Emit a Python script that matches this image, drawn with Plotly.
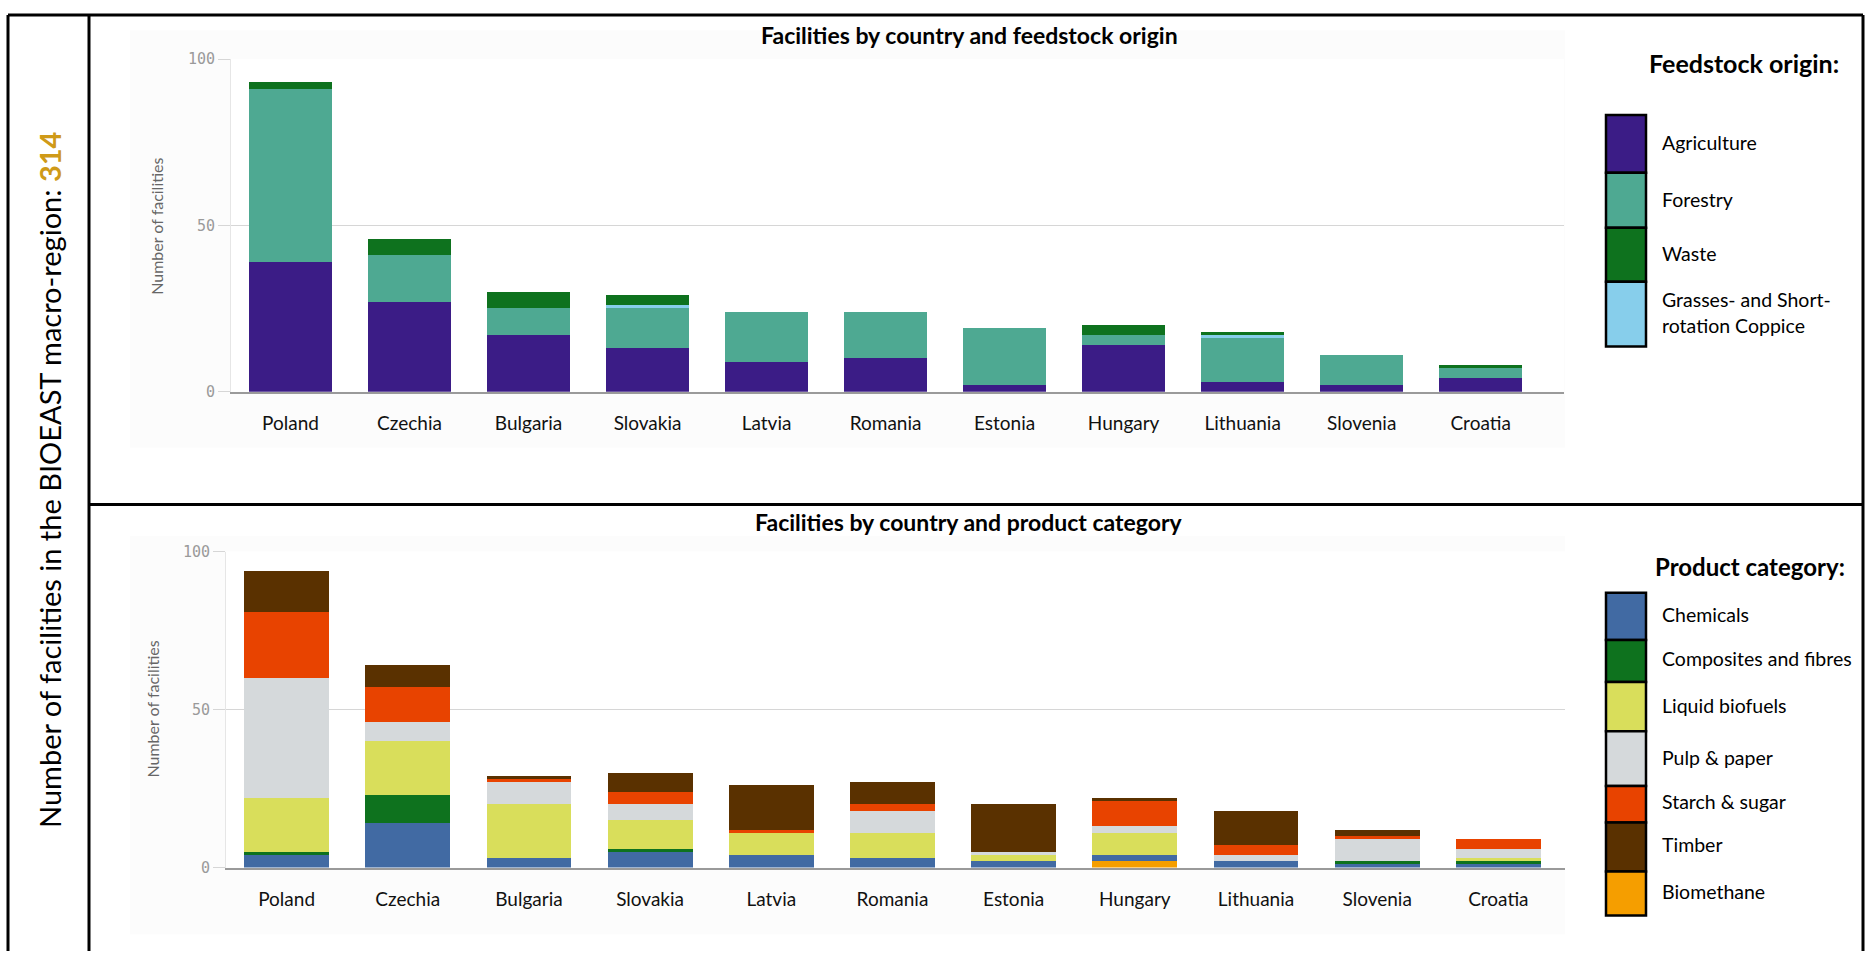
import plotly.graph_objects as go

W, H = 1869, 956

countries = ["Poland", "Czechia", "Bulgaria", "Slovakia", "Latvia", "Romania",
             "Estonia", "Hungary", "Lithuania", "Slovenia", "Croatia"]

# Facilities by feedstock origin (stacked bottom -> top)
agriculture = [39, 27, 17, 13, 9, 10, 2, 14, 3, 2, 4]
forestry = [52, 14, 8, 12, 15, 14, 17, 3, 13, 9, 3]
grasses_src = [0, 0, 0, 1, 0, 0, 0, 0, 1, 0, 0]
waste = [2, 5, 5, 3, 0, 0, 0, 3, 1, 0, 1]

# Facilities by product category (stacked bottom -> top)
biomethane = [0, 0, 0, 0, 0, 0, 0, 2, 0, 0, 0]
chemicals = [4, 14, 3, 5, 4, 3, 2, 2, 2, 1, 1]
composites = [1, 9, 0, 1, 0, 0, 0, 0, 0, 1, 1]
liquid_biofuels = [17, 17, 17, 9, 7, 8, 2, 7, 0, 0, 1]
pulp_paper = [38, 6, 7, 5, 0, 7, 1, 2, 2, 7, 3]
starch_sugar = [21, 11, 1, 4, 1, 2, 0, 8, 3, 1, 3]
timber = [13, 7, 1, 6, 14, 7, 15, 1, 11, 2, 0]

total_facilities = 314

C_AGR, C_FOR, C_WASTE, C_GRASS = "#3b1c86", "#4ea992", "#0e721e", "#87ceeb"
C_CHEM, C_COMP, C_LIQ, C_PULP = "#416aa3", "#0e721e", "#d9de5b", "#d5d9db"
C_STARCH, C_TIMBER, C_BIOM = "#e84300", "#5a3100", "#f59e00"

origin_series = [("Agriculture", agriculture, C_AGR),
                 ("Forestry", forestry, C_FOR),
                 ("Grasses- and Short-rotation Coppice", grasses_src, C_GRASS),
                 ("Waste", waste, C_WASTE)]
product_series = [("Biomethane", biomethane, C_BIOM),
                  ("Chemicals", chemicals, C_CHEM),
                  ("Composites and fibres", composites, C_COMP),
                  ("Liquid biofuels", liquid_biofuels, C_LIQ),
                  ("Pulp & paper", pulp_paper, C_PULP),
                  ("Starch & sugar", starch_sugar, C_STARCH),
                  ("Timber", timber, C_TIMBER)]


def px(x):
    return x / W


def py(y):
    return 1 - y / H


fig = go.Figure()
for name, vals, col in origin_series:
    fig.add_trace(go.Bar(x=countries, y=vals, name=name, marker_color=col,
                         marker_line_width=0, xaxis="x", yaxis="y", showlegend=False))
for name, vals, col in product_series:
    fig.add_trace(go.Bar(x=countries, y=vals, name=name, marker_color=col,
                         marker_line_width=0, xaxis="x2", yaxis="y2", showlegend=False))

LABEL_FONT = "Lato, 'Open Sans', sans-serif"
xcommon = dict(type="category", showline=True, linecolor="#9a9a9a", linewidth=1.5,
               ticks="outside", ticklen=14, tickcolor="rgba(0,0,0,0)",
               tickfont=dict(family=LABEL_FONT, size=19, color="#111111"),
               showgrid=False, fixedrange=True)
ycommon = dict(range=[0, 100], tickvals=[0, 50, 100], ticktext=["0", "50", "100"],
               showgrid=True, gridcolor="#d6d6d6", gridwidth=1, zeroline=False,
               showline=True, linecolor="#e6e6e6", linewidth=1,
               ticks="outside", ticklen=12, tickcolor="#d6d6d6",
               tickfont=dict(family="'DejaVu Sans Mono', monospace", size=15, color="#9a9a9a"),
               fixedrange=True)

fig.update_layout(
    width=W, height=H,
    margin=dict(l=0, r=0, t=0, b=0),
    paper_bgcolor="white", plot_bgcolor="white",
    barmode="stack", bargap=0.3,
    xaxis=dict(xcommon, domain=[px(231), px(1564)], range=[-0.5, 10.7], anchor="y"),
    yaxis=dict(ycommon, domain=[py(390), py(51)], anchor="x"),
    xaxis2=dict(xcommon, domain=[px(226), px(1565)], range=[-0.5, 10.55], anchor="y2"),
    yaxis2=dict(ycommon, domain=[py(875), py(553)], anchor="x2"),
)

shapes = []


def rect(x0, y0, x1, y1, **kw):
    shapes.append(dict(type="rect", xref="paper", yref="paper",
                       x0=px(x0), x1=px(x1), y0=py(y1), y1=py(y0), **kw))


def line(x0, y0, x1, y1, width=3):
    shapes.append(dict(type="line", xref="paper", yref="paper",
                       x0=px(x0), x1=px(x1), y0=py(y0), y1=py(y1),
                       line=dict(color="black", width=width)))


# faint panels behind each chart, plot areas kept white
rect(130, 22, 1565, 447, fillcolor="#fcfcfc", line_width=0, layer="below")
rect(130, 537, 1565, 943, fillcolor="#fcfcfc", line_width=0, layer="below")
rect(231, 51, 1564, 390, fillcolor="white", line_width=0, layer="below")
rect(226, 553, 1565, 875, fillcolor="white", line_width=0, layer="below")

# frame
line(8, 6, 1863, 6)
line(8, 6, 8, 960)
line(1863, 6, 1863, 960)
line(89, 6, 89, 960)
line(89, 505, 1863, 505)

annotations = []


def text(x, y, s, size=19.5, bold=False, anchor="left", color="black", family=LABEL_FONT, angle=0):
    annotations.append(dict(xref="paper", yref="paper", x=px(x), y=py(y),
                            text=f"<b>{s}</b>" if bold else s, showarrow=False,
                            xanchor=anchor, yanchor="middle", textangle=angle,
                            font=dict(family=family, size=size, color=color)))


# legend blocks
origin_legend = [("Agriculture", C_AGR, 108, 167),
                 ("Forestry", C_FOR, 167, 223),
                 ("Waste", C_WASTE, 223, 278),
                 ("Grasses", C_GRASS, 278, 344)]
for name, col, y0, y1 in origin_legend:
    rect(1606, y0, 1646, y1, fillcolor=col, line=dict(color="black", width=2.5))
text(1660, 136, "Agriculture")
text(1660, 194, "Forestry")
text(1660, 249, "Waste")
text(1660, 296, "Grasses- and Short-")
text(1660, 323, "rotation Coppice")
text(1744, 55, "Feedstock origin:", size=25, bold=True, anchor="center")

product_legend = [("Chemicals", C_CHEM, 595, 643, 617),
                  ("Composites and fibres", C_COMP, 643, 686, 662),
                  ("Liquid biofuels", C_LIQ, 686, 736, 710),
                  ("Pulp & paper", C_PULP, 736, 792, 763),
                  ("Starch & sugar", C_STARCH, 792, 829, 808),
                  ("Timber", C_TIMBER, 829, 879, 852),
                  ("Biomethane", C_BIOM, 879, 924, 899)]
for name, col, y0, y1, yt in product_legend:
    rect(1606, y0, 1646, y1, fillcolor=col, line=dict(color="black", width=2.5))
    text(1660, yt, name.replace("&", "&amp;"))
text(1750, 568, "Product category:", size=24, bold=True, anchor="center")

# chart titles
text(969, 26, "Facilities by country and feedstock origin", size=23, bold=True, anchor="center")
text(969, 523, "Facilities by country and product category", size=23, bold=True, anchor="center")

# axis titles
text(157, 222, "Number of facilities", size=16, anchor="center", color="#666666", angle=-90)
text(153, 714, "Number of facilities", size=16, anchor="center", color="#666666", angle=-90)

# side caption
text(50, 480,
     "Number of facilities in the BIOEAST macro-region: "
     f"<b><span style='color:#cf9a18'>{total_facilities}</span></b>",
     size=29, anchor="center", angle=-90)

fig.update_layout(shapes=shapes, annotations=annotations)
fig.write_html("out.html")
